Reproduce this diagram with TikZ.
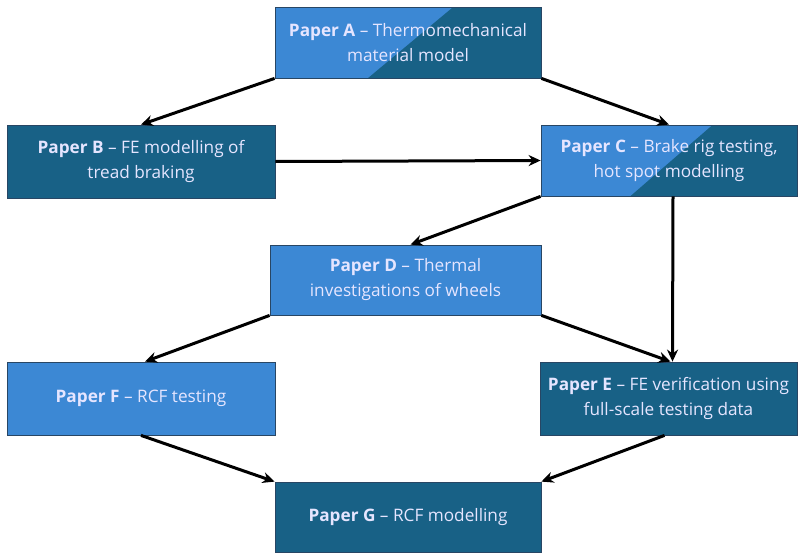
\documentclass[tikz,border=0pt]{standalone}
\usepackage{fontspec}
\setmainfont{Open Sans}
\usetikzlibrary{arrows.meta,calc,positioning}
\definecolor{paperlight}{RGB}{60,136,212}
\definecolor{paperdark}{RGB}{24,97,134}
\definecolor{paperedge}{RGB}{40,70,100}
\tikzset{
  paper/.style={draw=paperedge,line width=0.8pt,rectangle,align=center,text=white!90!blue,
    font=\fontsize{17.2}{25}\selectfont,inner sep=0pt},
  lightbox/.style={paper,fill=paperlight},
  darkbox/.style={paper,fill=paperdark},
  splitbox/.style={paper,fill=paperlight,
    path picture={\fill[paperdark]
      ($(path picture bounding box.north west)!0.67!(path picture bounding box.north east)$)
      -- (path picture bounding box.north east) -- (path picture bounding box.south east)
      -- ($(path picture bounding box.south west)!0.35!(path picture bounding box.south east)$) -- cycle;}},
  link/.style={->,line width=3pt}
}

\begin{document}
\begin{tikzpicture}[x=1pt,y=-1pt,>={Stealth[length=12pt,width=11pt]}]
  \useasboundingbox (0,0) rectangle (798,554);

  \node[splitbox,minimum width=266pt,minimum height=71pt] (pa) at (408,42.5)
    {\textbf{Paper A} – Thermomechanical\\material model};
  \node[darkbox,minimum width=268pt,minimum height=73pt] (pb) at (141,161.5)
    {\textbf{Paper B} – FE modelling of\\tread braking};
  \node[splitbox,minimum width=256pt,minimum height=71pt] (pc) at (669,160.5)
    {\textbf{Paper C} – Brake rig testing,\\hot spot modelling};
  \node[lightbox,minimum width=271pt,minimum height=70pt] (pd) at (405.5,280)
    {\textbf{Paper D} – Thermal\\investigations of wheels};
  \node[lightbox,minimum width=268pt,minimum height=73pt] (pf) at (141,398.5)
    {\textbf{Paper F} – RCF testing};
  \node[darkbox,minimum width=257pt,minimum height=73pt] (pe) at (668.5,398.5)
    {\textbf{Paper E} – FE verification using\\full-scale testing data};
  \node[darkbox,minimum width=266pt,minimum height=70pt] (pg) at (408,517)
    {\textbf{Paper G} – RCF modelling};

  \draw[link] (pa.south west) -- (pb.north);
  \draw[link] (pa.south east) -- (pc.north);
  \draw[link] (pb.east) -- (pc.west);
  \draw[link] (pc.south west) -- ($(pd.north)+(5,0)$);
  \draw[link] ($(pc.south)+(4,0)$) -- ($(pe.north)+(4,0)$);
  \draw[link] (pd.south west) -- ($(pf.north)+(4,0)$);
  \draw[link] (pd.south east) -- ($(pe.north)+(2,0)$);
  \draw[link] (pf.south) -- (pg.north west);
  \draw[link] ($(pe.south)+(-4,0)$) -- (pg.north east);
\end{tikzpicture}
\end{document}
